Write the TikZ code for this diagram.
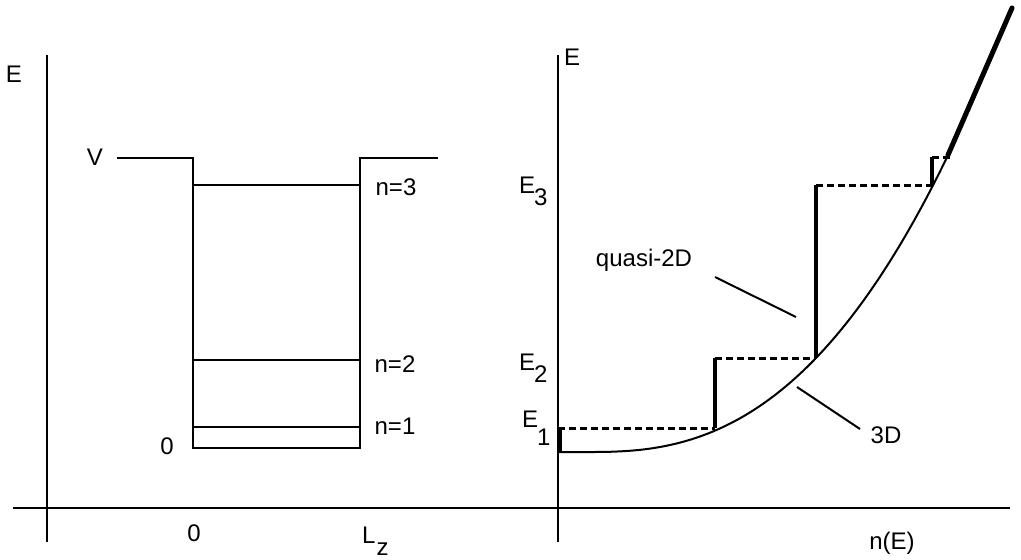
\documentclass[tikz,border=0pt]{standalone}
\usepackage{fontspec}
\setmainfont{Liberation Sans}
\begin{document}
\begin{tikzpicture}[x=1pt,y=-1pt,
  axisline/.style={line width=2pt},
  wellline/.style={line width=2pt},
  curveline/.style={line width=2pt, line join=round},
  dosline/.style={line width=4.5pt},
  levelline/.style={line width=3pt, dash pattern=on 7pt off 4pt},
  pointer/.style={line width=2pt},
  lbl/.style={inner sep=0pt, font=\fontsize{24}{28}\selectfont}]
\useasboundingbox (0,0) rectangle (1021,560);
% ---------- axes ----------
\coordinate (hL) at (13,508);
\coordinate (hR) at (1010,508);
\coordinate (v1t) at (47,55);
\coordinate (v1b) at (47,542);
\coordinate (v2t) at (558,55);
\coordinate (v2b) at (558,542);
\draw[axisline] (hL) -- (hR);
\draw[axisline] (v1t) -- (v1b);
\draw[axisline] (v2t) -- (v2b);
% ---------- left: quantum well ----------
\coordinate (vl) at (117,158);
\coordinate (wlt) at (193,158);
\coordinate (wlb) at (193,448);
\coordinate (wrb) at (360,448);
\coordinate (wrt) at (360,158);
\coordinate (vr) at (438,158);
\draw[wellline] (vl) -- (wlt) -- (wlb) -- (wrb) -- (wrt) -- (vr);
\coordinate (n3l) at (193,185); \coordinate (n3r) at (360,185);
\coordinate (n2l) at (193,360); \coordinate (n2r) at (360,360);
\coordinate (n1l) at (193,427); \coordinate (n1r) at (360,427);
\draw[wellline] (n3l) -- (n3r);
\draw[wellline] (n2l) -- (n2r);
\draw[wellline] (n1l) -- (n1r);
\node[lbl] (Eleft) at (14,74) {E};
\node[lbl] (Vlab) at (95,157) {V};
\node[lbl] (n3lab) at (396,187) {n=3};
\node[lbl] (n2lab) at (395,364) {n=2};
\node[lbl] (n1lab) at (395,426) {n=1};
\node[lbl] (zeroE) at (167,446) {0};
\node[lbl] (zeroX) at (194,533) {0};
\node[lbl, anchor=base west] (Lz) at (362,543) {L\kern1pt\raisebox{-12pt}{z}};
% ---------- right: density of states ----------
\node[lbl] (Eright) at (572,57) {E};
\node[lbl, anchor=base west] (E3) at (519,193) {E\kern-1pt\raisebox{-12pt}{3}};
\node[lbl, anchor=base west] (E2) at (519,370) {E\kern-1pt\raisebox{-12pt}{2}};
\node[lbl, anchor=base west] (E1) at (522,427) {E\kern-1pt\raisebox{-18pt}{1}};
\node[lbl, anchor=base] (nE) at (892,549) {n(E)};
\node[lbl, anchor=base] (q2D) at (644,266) {quasi-2D};
\node[lbl] (threeD) at (886,435) {3D};
% 3D bulk curve
\coordinate (c0) at (558,452);
\coordinate (c1) at (590.5,452);
\coordinate (ctop) at (948,155);
\coordinate (cend) at (1012,8);
\draw[curveline] (c0) -- (c1)
  plot[domain=590.5:948, samples=90, smooth] (\x, {452-94*((\x-590)/226)^2.5});
\draw[line width=5pt, line cap=round] (ctop) -- (cend);
% quasi-2D steps
\coordinate (s1a) at (560,452); \coordinate (s1b) at (560,428);
\coordinate (s2a) at (715,428); \coordinate (s2b) at (715,358);
\coordinate (s3a) at (816,358); \coordinate (s3b) at (816,185);
\coordinate (s4a) at (932,185); \coordinate (s4b) at (932,157);
\coordinate (s5) at (950,157);
\coordinate (d1) at (558,428);
\draw[levelline] (d1) -- (s2a);
\draw[levelline] (s2b) -- (s3a);
\draw[levelline] (s3b) -- (s4a);
\draw[levelline] (s4b) -- (s5);
\draw[dosline] (s1a) -- (s1b);
\draw[dosline] (s2a) -- (s2b);
\draw[dosline] (s3a) -- (s3b);
\draw[dosline] (s4a) -- (s4b);
% pointers
\coordinate (p1a) at (715,277); \coordinate (p1b) at (796,317);
\coordinate (p2a) at (797,387); \coordinate (p2b) at (860,429);
\draw[pointer] (p1a) -- (p1b);
\draw[pointer] (p2a) -- (p2b);
\end{tikzpicture}
\end{document}
